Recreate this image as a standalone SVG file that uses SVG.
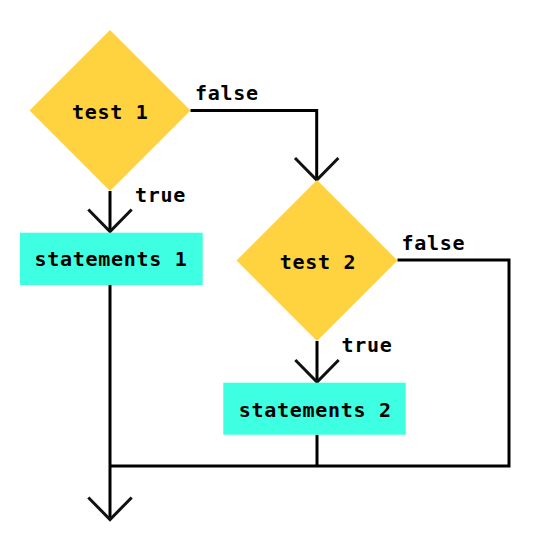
<svg xmlns="http://www.w3.org/2000/svg" width="540" height="550" viewBox="0 0 540 550">
<style>
.dia{fill:#FFD23F}
.box{fill:#3FFFE2}
.t{font-family:"DejaVu Sans Mono","Liberation Mono",monospace;font-size:20px;font-weight:bold;letter-spacing:0.7px;fill:#000}
.c{text-anchor:middle}
.ln{fill:none;stroke:#000;stroke-width:3}
.ah{fill:none;stroke:#111;stroke-width:3}
</style>
<rect width="540" height="550" fill="#fff"/>
<g id="connectors">
<path class="ln" d="M190.5,110.5 H316.7 V180"/>
<path class="ah" d="M295,158 L316.7,180 L338.4,158"/>
<path class="ln" d="M110,191 V232"/>
<path class="ah" d="M88.3,209.5 L110,231.5 L131.7,209.5"/>
<path class="ln" d="M317,341 V382"/>
<path class="ah" d="M295.3,360 L317,382 L338.7,360"/>
<path class="ln" d="M397.5,260 H509 V466 H110"/>
<path class="ln" d="M110,285 V520"/>
<path class="ln" d="M317,434.7 V466"/>
<path class="ah" d="M88.3,497.5 L110,519.5 L131.7,497.5"/>
<text class="t" x="195" y="100">false</text>
<text class="t" x="135" y="201.5">true</text>
<text class="t" x="401.5" y="250">false</text>
<text class="t" x="341.5" y="351.5">true</text>
</g>
<g id="test1">
<polygon class="dia" points="110,30 190.5,110.5 110,191 29.5,110.5"/>
<text class="t c" x="110.3" y="119">test 1</text>
</g>
<g id="statements1">
<rect class="box" x="20" y="232.7" width="182.7" height="52.3"/>
<text class="t c" x="111" y="266">statements 1</text>
</g>
<g id="test2">
<polygon class="dia" points="317,180 397.5,260.5 317,341 236.5,260.5"/>
<text class="t c" x="318" y="269">test 2</text>
</g>
<g id="statements2">
<rect class="box" x="223.3" y="382.7" width="182.4" height="52"/>
<text class="t c" x="315.3" y="416.7">statements 2</text>
</g>
</svg>
